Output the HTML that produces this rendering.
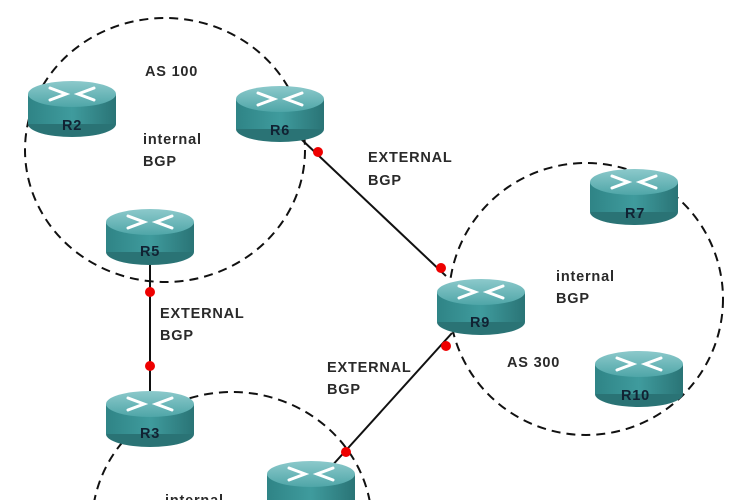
<!DOCTYPE html>
<html><head><style>
html,body{margin:0;padding:0;background:#fff;width:750px;height:500px;overflow:hidden}
svg{display:block}
svg text{font-family:"Liberation Sans","DejaVu Sans",sans-serif;font-weight:bold;font-size:14.5px;letter-spacing:0.8px;fill:#2a2a2a}
</style></head><body>
<svg width="750" height="500" viewBox="0 0 750 500" xmlns="http://www.w3.org/2000/svg">
<defs>
<linearGradient id="body" x1="0" y1="0" x2="1" y2="0">
<stop offset="0" stop-color="#2f8486"/><stop offset="0.5" stop-color="#3f9b9d"/><stop offset="1" stop-color="#2a7476"/></linearGradient>
<linearGradient id="top" x1="0" y1="0" x2="0" y2="1">
<stop offset="0" stop-color="#8cc9cb"/><stop offset="1" stop-color="#4fa6a8"/></linearGradient>
<g id="rt">
<ellipse cx="44" cy="44" rx="44" ry="13" fill="#2a7375"/>
<rect x="0" y="14" width="88" height="30" fill="url(#body)"/>
<ellipse cx="44" cy="14" rx="44" ry="13" fill="url(#top)"/>
<g stroke="#fff" stroke-width="3" fill="none" stroke-linecap="round">
<path d="M22 8 L38 14 L22 20"/><path d="M66 8 L50 14 L66 20"/>
</g>
</g>
</defs>
<g fill="none" stroke="#111" stroke-width="2" stroke-dasharray="9,6">
<ellipse cx="165" cy="150" rx="140" ry="132"/>
<ellipse cx="586" cy="299" rx="137" ry="136"/>
<ellipse cx="232" cy="525" rx="140" ry="133"/>
</g>
<g stroke="#111" stroke-width="2">
<line x1="300" y1="138" x2="446" y2="276"/>
<line x1="150" y1="260" x2="150" y2="392"/>
<line x1="452" y1="333" x2="330" y2="468"/>
</g>
<use href="#rt" x="28" y="80"/>
<use href="#rt" x="236" y="85"/>
<use href="#rt" x="106" y="208"/>
<use href="#rt" x="590" y="168"/>
<use href="#rt" x="437" y="278"/>
<use href="#rt" x="595" y="350"/>
<use href="#rt" x="106" y="390"/>
<use href="#rt" x="267" y="460"/>
<g style="font-size:13px;letter-spacing:0" fill="#123">
<text x="62" y="130" style="fill:#123">R2</text><text x="270" y="135" style="fill:#123">R6</text><text x="140" y="256" style="fill:#123">R5</text>
<text x="625" y="218" style="fill:#123">R7</text><text x="470" y="327" style="fill:#123">R9</text><text x="621" y="400" style="fill:#123">R10</text>
<text x="140" y="438" style="fill:#123">R3</text>
</g>
<g fill="#e00">
<circle cx="318" cy="152" r="5"/><circle cx="441" cy="268" r="5"/>
<circle cx="150" cy="292" r="5"/><circle cx="150" cy="366" r="5"/>
<circle cx="446" cy="346" r="5"/><circle cx="346" cy="452" r="5"/>
</g>
<text x="145" y="76">AS 100</text>
<text x="143" y="144">internal</text><text x="143" y="166">BGP</text>
<text x="368" y="162">EXTERNAL</text><text x="368" y="185">BGP</text>
<text x="556" y="281">internal</text><text x="556" y="303">BGP</text>
<text x="160" y="318">EXTERNAL</text><text x="160" y="340">BGP</text>
<text x="327" y="372">EXTERNAL</text><text x="327" y="394">BGP</text>
<text x="507" y="367">AS 300</text>
<text x="165" y="505">internal</text>
</svg>
</body></html>
